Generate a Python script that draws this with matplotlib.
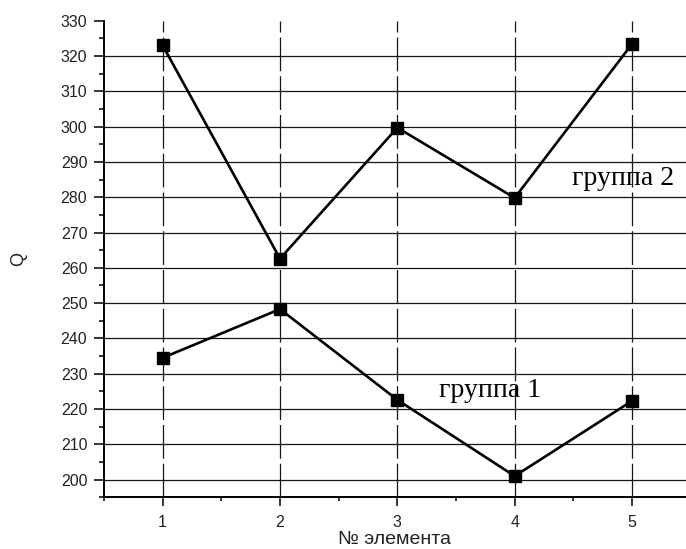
import numpy as np
import matplotlib
matplotlib.use('Agg')
from matplotlib import pyplot as plt
from matplotlib.ticker import MultipleLocator

# ------------------------------------------------
# DATA
elements = [1, 2, 3, 4, 5]
group1 = [234.5, 248.3, 222.6, 201.0, 222.3]
group2 = [323.0, 262.6, 299.7, 279.8, 323.4]
label1 = 'группа 1'
label2 = 'группа 2'

# ------------------------------------------------
# FIGURE
plt.rcParams['font.family'] = ['Liberation Sans', 'DejaVu Sans']
fig = plt.figure(figsize=(6.86, 5.49), dpi=100)
ax = fig.add_axes([0.1516, 0.0942, 0.8484, 0.8681])

ax.set_xlim(0.5, 5.46)
ax.set_ylim(195, 330)

# grid: solid horizontal, dashed vertical
for v in range(200, 330, 10):
    ax.axhline(v, color='#151515', lw=0.9, zorder=1)
for x in elements:
    ax.axvline(x, color='#151515', lw=0.9, dashes=(27, 4), zorder=1)

ax.plot(elements, group2, color='black', lw=1.9, marker='s', ms=8.5, zorder=3)
ax.plot(elements, group1, color='black', lw=1.9, marker='s', ms=8.5, zorder=3)

ax.text(4.92, 283.4, label2, family='Liberation Serif', fontsize=20,
        ha='center', va='baseline', zorder=4)
ax.text(3.79, 223.5, label1, family='Liberation Serif', fontsize=20,
        ha='center', va='baseline', zorder=4)

ax.xaxis.set_major_locator(MultipleLocator(1))
ax.xaxis.set_minor_locator(MultipleLocator(0.5))
ax.yaxis.set_major_locator(MultipleLocator(10))
ax.yaxis.set_minor_locator(MultipleLocator(5))

ax.tick_params(axis='x', which='major', direction='out', length=6.5, width=1.1, pad=6, labelsize=11.5, labelcolor='#222222')
ax.tick_params(axis='x', which='minor', direction='out', length=3, width=1.1)
ax.tick_params(axis='y', which='major', direction='out', length=7, width=1.1, pad=5, labelsize=11.5, labelcolor='#222222')
ax.tick_params(axis='y', which='minor', direction='out', length=3.6, width=1.1)

ax.spines['top'].set_visible(False)
ax.spines['right'].set_visible(False)
ax.spines['left'].set_linewidth(1.4)
ax.spines['bottom'].set_linewidth(1.4)

ax.set_xlabel('№ элемента', fontsize=14, labelpad=1, color='#222222')
ax.set_ylabel('Q', fontsize=13, labelpad=24, color='#222222')

fig.savefig('out.png', dpi=100)
print('OK')
